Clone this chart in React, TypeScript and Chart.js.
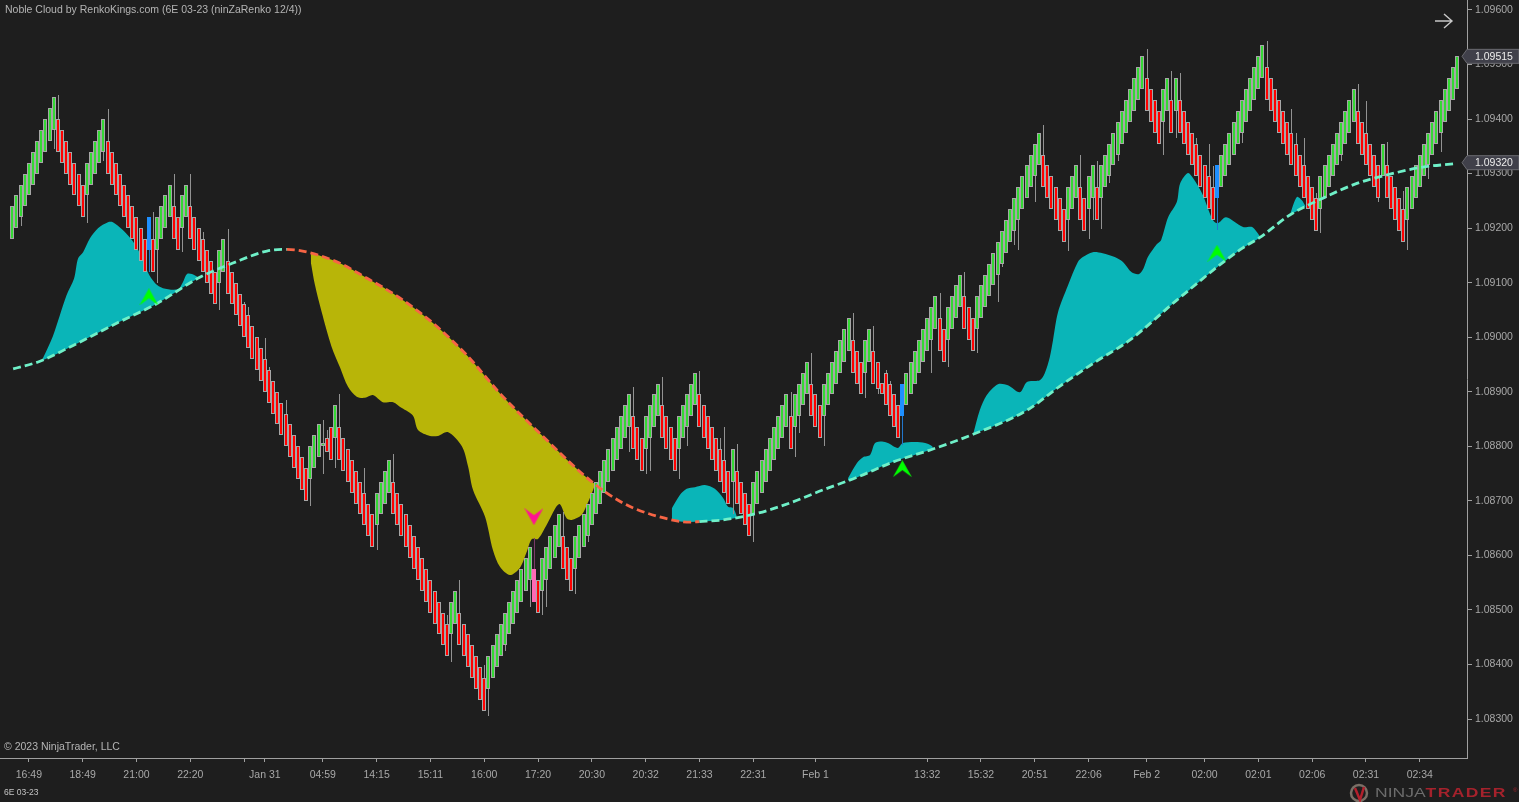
import { useEffect, useRef } from 'react';
import { Chart, registerables } from 'chart.js';

Chart.register(...registerables);

// renko closes, bar by bar
const closes = [
  1.0924, 1.0926, 1.0928, 1.093, 1.0932, 1.0934, 1.0936, 1.0938, 1.094, 1.0942, 1.0944,
  1.0934, 1.0932, 1.093, 1.0928, 1.0926, 1.0924, 1.0922,
  1.0932, 1.0934, 1.0936, 1.0938, 1.094,
  1.093, 1.0928, 1.0926, 1.0924, 1.0922, 1.092, 1.0918, 1.0916, 1.0914, 1.0912,
  1.0922, 1.0912, 1.0922, 1.0924, 1.0926, 1.0928,
  1.0918, 1.0916, 1.0926, 1.0928,
  1.0918, 1.0916, 1.0914, 1.0912, 1.091, 1.0908, 1.0906,
  1.0916, 1.0918,
  1.0908, 1.0906, 1.0904, 1.0902, 1.09, 1.0898, 1.0896, 1.0894, 1.0892, 1.089,
  1.0888, 1.0886, 1.0884, 1.0882, 1.088, 1.0878, 1.0876, 1.0874, 1.0872, 1.087,
  1.088, 1.0882, 1.0884,
  1.08806, 1.0879, 1.08775, 1.08875,
  1.08775, 1.08755, 1.08735, 1.08715, 1.08695, 1.08675, 1.08655, 1.08635, 1.08615,
  1.08715, 1.08735, 1.08755, 1.08775,
  1.08675, 1.08655, 1.08635, 1.08615, 1.08595, 1.08575, 1.08555, 1.08535, 1.08515,
  1.08495, 1.08475, 1.08455, 1.08435, 1.08415,
  1.08515, 1.08535,
  1.08435, 1.08415, 1.08395, 1.08375, 1.08355, 1.08335, 1.08315,
  1.08415, 1.08435, 1.08455, 1.08475, 1.08495, 1.08515, 1.08535, 1.08555, 1.08575, 1.08595, 1.08615,
  1.08515, 1.08495,
  1.08595, 1.08615, 1.08635, 1.08655, 1.08675,
  1.08575, 1.08555, 1.08535,
  1.08635, 1.08655, 1.08675, 1.08695, 1.08715, 1.08735, 1.08755, 1.08775, 1.08795,
  1.08815, 1.08835, 1.08855, 1.08875, 1.08895,
  1.08795, 1.08775, 1.08755,
  1.08855, 1.08875, 1.08895, 1.08915,
  1.08815, 1.08795, 1.08775, 1.08755,
  1.08855, 1.08875, 1.08895, 1.08915, 1.08935,
  1.08835, 1.08815, 1.08795, 1.08775, 1.08755, 1.08735, 1.08715, 1.08695,
  1.08795,
  1.08695, 1.08675, 1.08655, 1.08635,
  1.08735, 1.08755, 1.08775, 1.08795, 1.08815, 1.08835, 1.08855, 1.08875, 1.08895,
  1.08795,
  1.08895, 1.08915, 1.08935, 1.08955,
  1.08855, 1.08835, 1.08815,
  1.08915, 1.08935, 1.08955, 1.08975, 1.08995, 1.09015, 1.09035,
  1.08935, 1.08915, 1.08895,
  1.08995, 1.09015,
  1.08915, 1.08905, 1.08896, 1.08875, 1.08855, 1.08835, 1.08815,
  1.08915,
  1.08935, 1.08955, 1.08975, 1.08995, 1.09015, 1.09035, 1.09055, 1.09075,
  1.08975, 1.08955,
  1.09055, 1.09075, 1.09095, 1.09115,
  1.09015, 1.08995, 1.08975,
  1.09075, 1.09095, 1.09115, 1.09135, 1.09155, 1.09175, 1.09195, 1.09215,
  1.09235, 1.09255, 1.09275, 1.09295, 1.09315, 1.09335, 1.09355, 1.09375,
  1.09275, 1.09255, 1.09235, 1.09215, 1.09195, 1.09175,
  1.09275, 1.09295, 1.09315,
  1.09215, 1.09195,
  1.09295, 1.09315,
  1.09215,
  1.09315, 1.09335, 1.09355, 1.09375, 1.09395, 1.09415, 1.09435, 1.09455, 1.09475, 1.09495, 1.09515,
  1.09415, 1.09395, 1.09375, 1.09355,
  1.09455, 1.09475,
  1.09375,
  1.09475,
  1.09375, 1.09355, 1.09335, 1.09315, 1.09295, 1.09275, 1.09255, 1.09235, 1.09215,
  1.09315,
  1.09335, 1.09355, 1.09375, 1.09395, 1.09415, 1.09435, 1.09455, 1.09475, 1.09495, 1.09515, 1.09535,
  1.09435, 1.09415, 1.09395, 1.09375, 1.09355, 1.09335, 1.09315, 1.09295, 1.09275, 1.09255, 1.09235, 1.09215, 1.09195,
  1.09295, 1.09315, 1.09335, 1.09355, 1.09375, 1.09395, 1.09415, 1.09435, 1.09455,
  1.09355, 1.09335, 1.09315, 1.09295, 1.09275, 1.09255,
  1.09355,
  1.09255, 1.09235, 1.09215, 1.09195, 1.09175,
  1.09275, 1.09295, 1.09315, 1.09335, 1.09355, 1.09375, 1.09395, 1.09415, 1.09435, 1.09455, 1.09475, 1.09495, 1.09515,
];

const brickHeight = 0.0006;

// bricks that are not the usual height
const oddOpens: Record<number, number> = {
  0: 1.0918, 75: 1.088, 76: 1.08815, 209: 1.08955, 210: 1.08916,
};

const blueBars = [33, 215, 291];
const pinkBars = [126];

// wick tips: bar index, then the price the wick reaches
const wickBars = [
  2, 10, 11, 18, 22, 23, 33, 34, 35, 39, 41, 43, 46, 50, 52, 56, 57, 61, 62, 66, 72, 75, 75, 76, 78, 79, 85, 88, 92,
  105, 106, 108, 114, 115, 119, 125, 126, 128, 129, 133, 136, 139, 149, 150, 153, 154, 157, 161, 163, 166, 171, 172,
  174, 175, 179, 188, 189, 190, 193, 196, 203, 206, 208, 209, 211, 212, 215, 222, 224, 226, 230, 233, 238, 239, 242,
  243, 247, 249, 255, 258, 260, 261, 262, 263, 265, 267, 274, 278, 280, 281, 282, 286, 289, 290, 291, 297, 303, 309,
  310, 312, 315, 316, 321, 325, 327, 330, 332, 336, 337, 342, 345,
];
const wickTips = [
  1.09204, 1.09345, 1.09445, 1.0921, 1.09323, 1.09418, 1.0912, 1.0923, 1.091, 1.09299, 1.09156, 1.09299, 1.09193,
  1.0905, 1.09198, 1.09064, 1.09055, 1.08999, 1.08946, 1.08885, 1.0869, 1.08849, 1.0875, 1.0883, 1.0876, 1.08896,
  1.0876, 1.0861, 1.08786,
  1.0849, 1.08405, 1.08555, 1.08399, 1.08306, 1.08425, 1.08506, 1.08632, 1.0849, 1.08506, 1.0868, 1.0853, 1.08625,
  1.0879, 1.08909, 1.0875, 1.08755, 1.08927, 1.0874, 1.08801, 1.08938, 1.08815, 1.08835,
  1.08676, 1.08804, 1.08625, 1.089, 1.0878, 1.08825, 1.08971, 1.08801, 1.09044, 1.08889, 1.0902, 1.08896, 1.0894,
  1.0892, 1.08802, 1.08935, 1.09081, 1.08946, 1.0912, 1.08971, 1.09064, 1.09129, 1.09169,
  1.0916, 1.09248, 1.09389, 1.09159, 1.09334, 1.0918, 1.09215, 1.09323, 1.09198, 1.09283, 1.09324, 1.09528, 1.09334,
  1.09489, 1.09365, 1.09484, 1.09365, 1.09354, 1.09314, 1.09197, 1.09356, 1.09543, 1.09418,
  1.09375, 1.09365, 1.09264, 1.09191, 1.09324, 1.09464, 1.09433, 1.09248, 1.09358, 1.09269, 1.0916, 1.0929, 1.0934,
];

// the dashed line, its colour flips between these two bars
const baseBars = [
  0.2, 6.7, 14.7, 25.3, 35, 45.3, 53.3, 61.5, 66.3, 77.5, 85.7, 93.6, 101.6, 109.8, 117.8, 127.4, 139.5, 147.5, 155.7,
  163.7, 166, 171.7, 179.9, 187.8, 195.8, 204, 212.7, 222.4, 232.1, 245.1, 253, 261.5, 270, 281.3, 296.5, 301.4, 308.6,
  316.6, 324.8, 332.8, 340.7, 348.5,
];
const basePrices = [
  1.08942, 1.08956, 1.08985, 1.09026, 1.09062, 1.0911, 1.09136, 1.09158, 1.09161, 1.09141, 1.09108, 1.09072, 1.09026,
  1.08967, 1.08897, 1.08824, 1.08738, 1.08696, 1.08672, 1.08661, 1.08662, 1.08665, 1.08677, 1.08696, 1.0872, 1.08743,
  1.08771, 1.08795, 1.08822, 1.08866, 1.0891, 1.08954, 1.08995, 1.09068, 1.0916, 1.09183, 1.09224, 1.09255, 1.09282,
  1.09299, 1.09312, 1.09318,
];
const bearFrom = 66.3;
const bearTo = 166;

// cloud edges, each one fills down (or up) to the dashed line
const cloud1Bars = [7.3, 9.8, 13.1, 14.9, 15.9, 17.1, 18.8, 20.7, 23.1, 24.3, 26.5, 29.2, 31.6, 32.8, 34.5, 36.4, 40, 41.2, 42.2, 43.4, 45.1];
const cloud1Prices = [1.0896, 1.09002, 1.09077, 1.09107, 1.09145, 1.09156, 1.09182, 1.092, 1.09211, 1.09211, 1.09198, 1.09175, 1.09142, 1.09118, 1.09099, 1.0909, 1.09088, 1.09101, 1.09116, 1.09116, 1.09109];

const cloud2Bars = [
  72.1, 73.1, 74.7, 77.1, 79.2, 81.1, 83.2, 85.2, 87.1, 89.5, 92, 94.1, 96.8, 98, 100.9, 102.8, 105.2, 108.6, 110.1,
  111.3, 114.2, 116.1, 117.8, 120.2, 122.6, 124.3, 125.5, 127, 129.1, 132.1, 133.9, 135.1, 137.5, 139, 140.3, 141,
];
const cloud2Prices = [
  1.09138, 1.09096, 1.09047, 1.08983, 1.08944, 1.08909, 1.08891, 1.08889, 1.08894, 1.08881, 1.08881, 1.0887, 1.08856,
  1.0883, 1.08819, 1.08819, 1.08826, 1.088, 1.08763, 1.0872, 1.08671, 1.0861, 1.08579, 1.08564, 1.08577, 1.08607,
  1.0863, 1.0863, 1.08656, 1.08694, 1.08668, 1.08665, 1.08674, 1.08696, 1.0872, 1.08735,
];

const cloud3Bars = [159.3, 161.3, 162.9, 164.9, 167.3, 169.7, 171.7, 172.9, 174.1, 175];
const cloud3Prices = [1.08686, 1.08711, 1.08722, 1.08725, 1.08729, 1.08722, 1.08705, 1.08689, 1.08687, 1.08672];

const cloud4Bars = [201.9, 204, 205.5, 207.2, 208.4, 210.1, 211.5, 213.9, 215.1, 218.1, 220.5, 222.2, 222.4];
const cloud4Prices = [1.08742, 1.08769, 1.0878, 1.08784, 1.08806, 1.08809, 1.08806, 1.08797, 1.08806, 1.08808, 1.08806, 1.088, 1.08793];

const cloud5Bars = [
  232.1, 233.7, 235.4, 238.1, 240.5, 243.4, 245.1, 248.2, 249.4, 250.6, 251.4, 252.6, 255, 257.4, 258.6, 261, 263.4,
  266.3, 268.3, 270.4, 272.2, 273.3, 274.3, 276.5, 277.5, 279.2, 281.3, 282.1, 284, 285.2, 287.4, 290, 291.2, 293.2,
  297.3, 299.5, 301.4,
];
const cloud5Prices = [
  1.08822, 1.08866, 1.08894, 1.08914, 1.08912, 1.08899, 1.08918, 1.08921, 1.08934, 1.08963, 1.08995, 1.09046, 1.09095,
  1.09138, 1.09147, 1.09156, 1.09154, 1.09147, 1.09138, 1.09119, 1.09116, 1.09127, 1.09147, 1.09171, 1.09178, 1.0922,
  1.09248, 1.09282, 1.09301, 1.09292, 1.09264, 1.09215, 1.09209, 1.0922, 1.09202, 1.09202, 1.09185,
];

const cloud6Bars = [308.6, 310.3, 311.5, 312.4];
const cloud6Prices = [1.09224, 1.09257, 1.09251, 1.0924];

// signal arrows
const upArrowBars = [33, 215, 291];
const upArrowPrices = [1.09074, 1.08759, 1.09154];
const downArrowBars = [126];
const downArrowPrices = [1.08671];

const tickBars = [4, 17, 30, 43, 56, 61, 75, 88, 101, 114, 127, 140, 153, 166, 179, 194, 221, 234, 247, 260, 274, 288, 301, 314, 327, 340];
const tickLabels = [
  '16:49', '18:49', '21:00', '22:20', '', 'Jan 31', '04:59', '14:15', '15:11', '16:00', '17:20', '20:30', '20:32',
  '21:33', '22:31', 'Feb 1', '13:32', '15:32', '20:51', '22:06', 'Feb 2', '02:00', '02:01', '02:06', '02:31', '02:34',
];
const priceTicks = [1.096, 1.095, 1.094, 1.093, 1.092, 1.091, 1.09, 1.089, 1.088, 1.087, 1.086, 1.085, 1.084, 1.083];
const lastPrices = [1.09515, 1.0932];

const BG = '#1e1e1e';
const TEAL = '#0ab5b8';
const OLIVE = '#b8b508';
const AQUA = '#6ff0c8';
const TOMATO = '#f76545';
const AXIS = '#a0a0a0';
const FONT = '"Liberation Sans", Arial, sans-serif';

function toXY(xs: number[], ys: number[]) {
  return xs.map((x, i) => ({ x, y: ys[i] }));
}

function arrowImage(color: string, down: boolean) {
  const c = document.createElement('canvas');
  c.width = 19;
  c.height = 17;
  const g = c.getContext('2d')!;
  if (down) {
    g.translate(0, 17);
    g.scale(1, -1);
  }
  g.fillStyle = color;
  g.beginPath();
  g.moveTo(9.5, 0);
  g.lineTo(19, 17);
  g.lineTo(9.5, 10);
  g.lineTo(0, 17);
  g.closePath();
  g.fill();
  return c;
}

// keep bars on whole pixels, otherwise the 1px borders blur away
const snapBars = {
  id: 'snapBars',
  afterDatasetsUpdate(chart: Chart) {
    chart.getSortedVisibleDatasetMetas().forEach((meta) => {
      if (meta.type !== 'bar') return;
      meta.data.forEach((el: any) => {
        el.x = el.width <= 1 ? Math.round(el.x) + 0.5 : Math.round(el.x);
        el.y = Math.round(el.y);
        el.base = Math.round(el.base);
      });
    });
  },
};

const priceTags = {
  id: 'priceTags',
  afterDraw(chart: Chart) {
    const { ctx, scales } = chart;
    ctx.save();
    lastPrices.forEach((p) => {
      const y = scales.y.getPixelForValue(p);
      ctx.beginPath();
      ctx.moveTo(1462, y);
      ctx.lineTo(1467, y - 7);
      ctx.lineTo(1519, y - 7);
      ctx.lineTo(1519, y + 7);
      ctx.lineTo(1467, y + 7);
      ctx.closePath();
      ctx.fillStyle = '#40404a';
      ctx.fill();
      ctx.strokeStyle = '#6a6a70';
      ctx.lineWidth = 1;
      ctx.stroke();
      ctx.fillStyle = '#ececec';
      ctx.font = `10.5px ${FONT}`;
      ctx.textBaseline = 'middle';
      ctx.textAlign = 'left';
      ctx.fillText(p.toFixed(5), 1475, y + 0.5);
    });
    ctx.restore();
  },
};

const labelStyle = (left: number, top: number, size: number, color: string): React.CSSProperties => ({
  position: 'absolute',
  left,
  top,
  fontFamily: FONT,
  fontSize: size,
  lineHeight: 1,
  color,
  whiteSpace: 'nowrap',
});

export default function App() {
  const ref = useRef<HTMLCanvasElement>(null);

  useEffect(() => {
    if (!ref.current) return;
    document.body.style.margin = '0';
    document.body.style.background = BG;

    const opens = closes.map((c, i) => {
      if (oddOpens[i] !== undefined) return oddOpens[i];
      return c > closes[i - 1] ? c - brickHeight : c + brickHeight;
    });
    const barColor = (i: number) => {
      if (blueBars.includes(i)) return '#1e8fff';
      if (pinkBars.includes(i)) return '#ff69b4';
      return closes[i] > opens[i] ? '#34d834' : '#ff0000';
    };
    const flagged = (i: number) => blueBars.includes(i) || pinkBars.includes(i);
    const wickColor = (i: number) => {
      if (blueBars.includes(i)) return '#2277cc';
      if (pinkBars.includes(i)) return '#7a3a68';
      return '#929292';
    };

    const bodies = closes.map((c, i) => ({ x: i, y: [Math.min(c, opens[i]), Math.max(c, opens[i])] }));
    const wicks = wickBars.map((b, i) => {
      const top = Math.max(closes[b], opens[b]);
      const bottom = Math.min(closes[b], opens[b]);
      return { x: b, y: wickTips[i] > top ? [top, wickTips[i]] : [wickTips[i], bottom] };
    });

    // fills go to dataset 0, which has no colour segments so no seams show
    const cloud = (xs: number[], ys: number[], color: string) => ({
      type: 'line' as const,
      data: toXY(xs, ys),
      borderWidth: 0,
      pointRadius: 0,
      tension: 0.3,
      backgroundColor: color,
      fill: { target: 0 },
      order: 5,
    });

    const chart = new Chart(ref.current, {
      type: 'bar',
      data: {
        datasets: [
          {
            type: 'line',
            data: toXY(baseBars, basePrices),
            borderColor: 'transparent',
            borderWidth: 0,
            pointRadius: 0,
            cubicInterpolationMode: 'monotone',
            fill: false,
            order: 6,
          },
          {
            type: 'line',
            data: toXY(baseBars, basePrices),
            borderColor: AQUA,
            borderWidth: 2.8,
            borderDash: [8, 4],
            pointRadius: 0,
            cubicInterpolationMode: 'monotone',
            fill: false,
            order: 1,
            segment: {
              borderColor: (c: any) => (c.p0.parsed.x >= bearFrom && c.p0.parsed.x < bearTo ? TOMATO : AQUA),
            },
          },
          cloud(cloud1Bars, cloud1Prices, TEAL),
          cloud(cloud2Bars, cloud2Prices, OLIVE),
          cloud(cloud3Bars, cloud3Prices, TEAL),
          cloud(cloud4Bars, cloud4Prices, TEAL),
          cloud(cloud5Bars, cloud5Prices, TEAL),
          cloud(cloud6Bars, cloud6Prices, TEAL),
          {
            data: wicks,
            backgroundColor: wickBars.map(wickColor),
            barThickness: 1,
            inflateAmount: 0,
            grouped: false,
            order: 4,
          },
          {
            data: bodies,
            backgroundColor: closes.map((_, i) => barColor(i)),
            borderColor: closes.map((_, i) => (flagged(i) ? barColor(i) : '#a6a6a6')),
            borderWidth: 1,
            borderSkipped: false,
            barThickness: 4,
            inflateAmount: 0,
            grouped: false,
            order: 3,
          },
          {
            type: 'line',
            data: toXY(upArrowBars, upArrowPrices),
            showLine: false,
            pointRadius: 6,
            pointStyle: arrowImage('#00ff00', false),
            order: 0,
          },
          {
            type: 'line',
            data: toXY(downArrowBars, downArrowPrices),
            showLine: false,
            pointRadius: 6,
            pointStyle: arrowImage('#ff1493', true),
            order: 0,
          },
        ] as any,
      },
      options: {
        animation: false,
        responsive: false,
        devicePixelRatio: 1,
        layout: { padding: 0, autoPadding: false },
        plugins: { legend: { display: false }, tooltip: { enabled: false } },
        scales: {
          x: {
            type: 'linear',
            min: -2.97,
            max: 351.4,
            offset: false,
            grid: { offset: false, drawOnChartArea: false, tickLength: 4, tickColor: AXIS },
            border: { color: AXIS },
            ticks: {
              autoSkip: false,
              maxRotation: 0,
              color: '#a8a8a8',
              padding: 7,
              font: { family: FONT, size: 10.5 },
              callback: (_v: any, i: number) => tickLabels[i],
            },
            afterBuildTicks: (s: any) => {
              s.ticks = tickBars.map((value) => ({ value }));
            },
            afterFit: (s: any) => {
              s.height = 44;
              s.paddingLeft = s.paddingRight = s.paddingTop = s.paddingBottom = 0;
            },
          },
          y: {
            position: 'right',
            min: 1.082285,
            max: 1.096183,
            grid: { drawOnChartArea: false, tickLength: 5, tickColor: AXIS },
            border: { color: AXIS },
            ticks: {
              color: '#a8a8a8',
              padding: 3,
              font: { family: FONT, size: 10.5 },
              callback: (v: any) => Number(v).toFixed(5),
            },
            afterBuildTicks: (s: any) => {
              s.ticks = priceTicks.map((value) => ({ value }));
            },
            afterFit: (s: any) => {
              s.width = 52;
              s.paddingLeft = s.paddingRight = s.paddingTop = s.paddingBottom = 0;
            },
          },
        },
      },
      plugins: [snapBars, priceTags],
    });
    return () => chart.destroy();
  }, []);

  return (
    <div style={{ position: 'relative', width: 1519, height: 802, overflow: 'hidden', background: BG }}>
      <canvas ref={ref} width={1519} height={802} style={{ position: 'absolute', left: 0, top: 0 }} />
      <div style={labelStyle(5, 4, 10.5, '#b4b4b4')}>Noble Cloud by RenkoKings.com (6E 03-23 (ninZaRenko 12/4))</div>
      <div style={labelStyle(4, 741, 10.5, '#b4b4b4')}>© 2023 NinjaTrader, LLC</div>
      <div style={labelStyle(4, 788, 8.5, '#c4c4c4')}>6E 03-23</div>
      <svg width={20} height={18} style={{ position: 'absolute', left: 1434, top: 12 }}>
        <path d="M1 9 H18 M10 2 L18 9 L10 16" stroke="#c8c8c8" strokeWidth={1.4} fill="none" />
      </svg>
      <svg width={20} height={20} style={{ position: 'absolute', left: 1349, top: 783 }}>
        <circle cx={10} cy={10} r={8} stroke="#7a6f66" strokeWidth={2.5} fill="none" />
        <path d="M6 5 L11 17 L15 4" stroke="#b3202c" strokeWidth={2.5} fill="none" />
      </svg>
      <div style={{ ...labelStyle(1375, 787, 12.5, '#6c6c6c'), transform: 'scaleX(1.4)', transformOrigin: 'left top' }}>
        <span>NINJA</span>
        <span style={{ letterSpacing: 1, color: '#a5222c', fontWeight: 700 }}>TRADER</span>
      </div>
      <div style={labelStyle(1513, 787, 6, '#a5222c')}>®</div>
    </div>
  );
}
